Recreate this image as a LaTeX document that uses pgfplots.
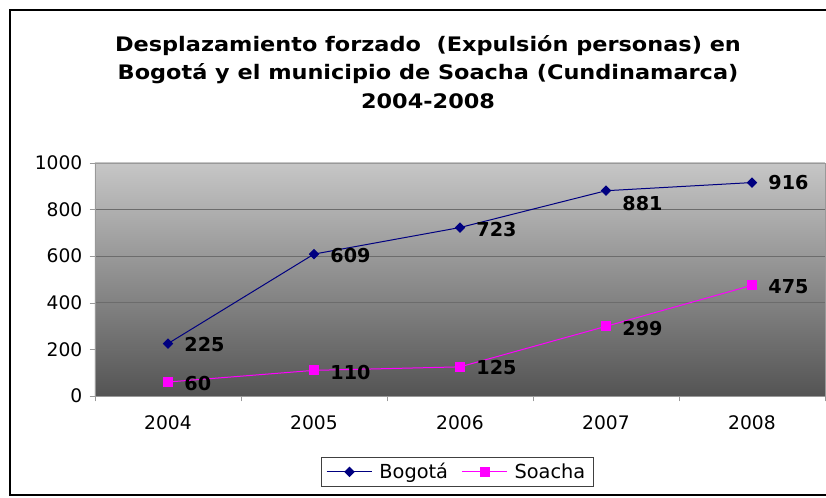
\documentclass[border=0pt]{standalone}
\usepackage{pgfplots}
\pgfplotsset{compat=1.18}
\usepackage{pgfplotstable}
\usepackage{fontspec}
\setmainfont{DejaVu Sans}
\newfontfamily\titlefont{DejaVu Sans}[FakeStretch=1.12]
\definecolor{bogota}{RGB}{0,0,128}
\definecolor{soacha}{RGB}{255,0,255}
\definecolor{bgtop}{RGB}{198,198,198}
\definecolor{bgbot}{RGB}{84,84,84}
\pgfplotstableread{
x y lab dy
0 225 225 -1
1 609 609 -1
2 723 723 -2
3 881 881 -13
4 916 916 0
}\bogota
\pgfplotstableread{
x y lab dy
0 60 60 -2
1 110 110 -2
2 125 125 -1
3 299 299 -2
4 475 475 -1
}\soacha
\begin{document}
\begin{tikzpicture}[x=0.75pt,y=0.75pt]
\useasboundingbox (0,0) rectangle (826,498);
\clip (0,0) rectangle (826,498);
\draw[line width=1.3pt] (10,3) rectangle (850,488);
\node[align=center, font=\titlefont\bfseries\fontsize{15}{21.4}\selectfont] at (428,426)
  {Desplazamiento forzado\ \ (Expulsión personas) en\\Bogotá y el municipio de Soacha (Cundinamarca)\\2004-2008};
\begin{axis}[
  at={(71.25pt,76.5pt)}, anchor=south west,
  scale only axis, width=547.5pt, height=174.75pt,
  xmin=-0.5, xmax=4.5, ymin=0, ymax=1000,
  xtick={-0.5,0.5,1.5,2.5,3.5,4.5},
  xticklabels={2004,2005,2006,2007,2008},
  x tick label as interval,
  ytick={0,200,...,1000},
  tick align=outside, tick pos=left,
  major tick length=4pt,
  axis line style={draw=gray!80},
  every tick/.style={gray!80},
  ymajorgrids, grid style={gray!85!black, line width=0.6pt},
  axis background/.style={shade, top color=bgtop, bottom color=bgbot},
  /pgf/number format/assume math mode=true,
  /pgf/number format/1000 sep={},
  tick label style={font=\fontsize{14}{16}\selectfont},
  xticklabel style={yshift=-7pt},
  yticklabel style={xshift=-2pt},
  point meta=explicit symbolic,
  visualization depends on={\thisrow{dy} \as \dy},
  nodes near coords,
  nodes near coords style={anchor=west, inner sep=0pt, xshift=12pt, yshift=\dy*0.75pt, font=\bfseries\fontsize{14.4}{16}\selectfont, text=black},
  legend style={at={(rel axis cs:0.496,-0.326)}, anchor=center, draw=black!75, font=\fontsize{14.5}{16}\selectfont, /tikz/every even column/.append style={column sep=8pt}, /tikz/every odd column/.append style={column sep=3pt}, inner xsep=4pt, inner ysep=2.5pt},
  legend columns=2,
  legend image code/.code={\draw[mark repeat=2,mark phase=2] plot coordinates {(0cm,0cm)(0.6cm,0cm)(1.2cm,0cm)};},
]
\addplot[bogota, line width=0.75pt, mark=square*, mark size=2.4pt, mark options={rotate=45, fill=bogota}] table[x=x, y=y, meta=lab] {\bogota};
\addlegendentry{Bogotá}
\addplot[soacha, line width=0.75pt, mark=square*, mark size=3.3pt, mark options={fill=soacha}] table[x=x, y=y, meta=lab] {\soacha};
\addlegendentry{Soacha}
\end{axis}
\end{tikzpicture}
\end{document}
